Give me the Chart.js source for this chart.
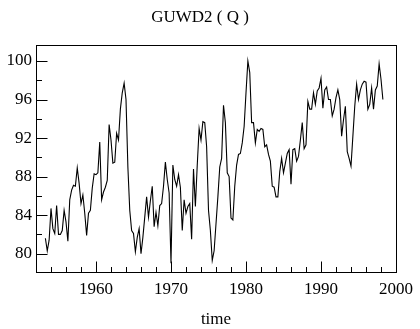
<!DOCTYPE html>
<html>
<head>
<meta charset="utf-8">
<script src="https://cdn.jsdelivr.net/npm/chart.js@4.4.1/dist/chart.umd.min.js"></script>
<style>
html, body { margin: 0; padding: 0; background: #fff; }
</style>
</head>
<body>
<canvas id="grafico" width="420" height="329"></canvas>
<script>
const titulo = "GUWD2 ( Q )";
const tituloX = "time";
const inicio = 1953.25; // primer trimestre
const valores = [
    81.6, 80.3, 81.4, 84.7, 82.6, 82.1, 85.0, 82.0, 82.0, 82.4, 84.5, 83.3, 81.3, 85.6, 86.6, 87.1,
    87.0, 88.9, 87.3, 85.2, 86.1, 84.2, 81.9, 84.2, 84.5, 86.8, 88.3, 88.2, 88.4, 91.6, 85.6, 86.4,
    86.9, 87.6, 93.4, 91.8, 89.4, 89.5, 92.5, 91.8, 95.0, 96.7, 97.7, 96.0, 89.0, 84.5, 82.4, 82.1,
    80.2, 81.7, 82.6, 80.0, 81.7, 83.8, 85.9, 83.8, 85.5, 87.0, 82.8, 84.3, 82.9, 85.0, 85.2, 87.0,
    89.5, 87.7, 86.3, 79.0, 89.2, 87.7, 87.0, 88.2, 86.9, 82.4, 85.6, 84.2, 84.9, 85.2, 81.5, 88.8,
    84.9, 89.2, 93.0, 91.8, 93.7, 93.6, 91.1, 84.5, 82.4, 79.3, 80.3, 83.1, 85.9, 89.0, 89.9, 95.4,
    93.6, 88.4, 88.0, 83.7, 83.5, 87.0, 89.2, 90.3, 90.4, 91.5, 93.2, 96.7, 100.0, 98.8, 93.6, 93.6,
    91.5, 92.9, 92.7, 93.0, 92.9, 91.1, 91.3, 90.3, 89.6, 87.0, 86.9, 85.9, 85.9, 88.5, 89.9, 88.4,
    89.4, 90.4, 90.8, 87.2, 90.8, 90.9, 89.6, 90.1, 91.8, 93.6, 90.9, 91.3, 95.8, 95.0, 95.0, 96.7,
    95.5, 96.9, 97.2, 98.2, 95.1, 97.0, 97.3, 96.0, 96.0, 94.3, 95.0, 96.2, 97.0, 96.0, 92.2, 93.9,
    95.3, 90.6, 89.9, 89.1, 92.2, 95.3, 97.6, 96.0, 97.0, 97.6, 97.9, 97.8, 95.0, 95.5, 97.2, 95.0,
    97.0, 97.4, 99.7, 98.1, 96.0
];
const ticksX = [1960, 1970, 1980, 1990, 2000];
const ticksY = [80, 84, 88, 92, 96, 100];

const fuente = { family: "'Liberation Serif', 'DejaVu Serif', serif", size: 17, weight: "normal" };

// marco y marcas hacia adentro
const marco = {
    id: "marco",
    afterDraw(chart) {
        const { ctx, chartArea: a, scales: { x, y } } = chart;
        const r = v => Math.round(v) + 0.5;
        ctx.save();
        ctx.strokeStyle = "#000";
        ctx.lineWidth = 1;
        ctx.strokeRect(r(a.left), r(a.top), Math.round(a.right) - Math.round(a.left), Math.round(a.bottom) - Math.round(a.top));
        ctx.beginPath();
        for (let v = 1954; v < 2000; v += 2) {
            const px = r(x.getPixelForValue(v));
            const largo = ticksX.includes(v) ? 11 : 5.5;
            ctx.moveTo(px, r(a.bottom));
            ctx.lineTo(px, r(a.bottom) - largo);
        }
        for (let v = 80; v <= 100; v += 2) {
            const py = r(y.getPixelForValue(v));
            const largo = ticksY.includes(v) ? 11 : 5.5;
            ctx.moveTo(r(a.left), py);
            ctx.lineTo(r(a.left) + largo, py);
        }
        ctx.stroke();
        ctx.restore();
    }
};

new Chart(document.getElementById("grafico"), {
    type: "line",
    data: {
        datasets: [{
            data: valores.map((v, i) => ({ x: inicio + i * 0.25, y: v })),
            borderColor: "#000",
            borderWidth: 1.1,
            pointRadius: 0,
            tension: 0,
            fill: false
        }]
    },
    options: {
        responsive: false,
        animation: false,
        devicePixelRatio: 1,
        layout: { padding: { left: 0, right: 20, top: 0, bottom: 0 } },
        plugins: {
            legend: { display: false },
            tooltip: { enabled: false },
            title: {
                display: true,
                text: titulo,
                color: "#000",
                font: fuente,
                padding: { top: 7, bottom: 17.6 }
            }
        },
        scales: {
            x: {
                type: "linear",
                min: 1952,
                max: 2000,
                grid: { display: false, drawTicks: false },
                border: { display: false },
                afterBuildTicks: s => { s.ticks = ticksX.map(v => ({ value: v })); },
                afterFit: s => { s.height = 57; },
                ticks: { color: "#000", font: fuente, padding: 7, maxRotation: 0, autoSkip: false, callback: v => String(v) },
                title: { display: true, text: tituloX, color: "#000", font: fuente, padding: { top: 0, bottom: -1 } }
            },
            y: {
                min: 78.1,
                max: 101.66,
                grid: { display: false, drawTicks: false },
                border: { display: false },
                afterBuildTicks: s => { s.ticks = ticksY.map(v => ({ value: v })); },
                afterFit: s => { s.width = 36; },
                ticks: { color: "#000", font: fuente, padding: 4 }
            }
        }
    },
    plugins: [marco]
});
</script>
</body>
</html>
